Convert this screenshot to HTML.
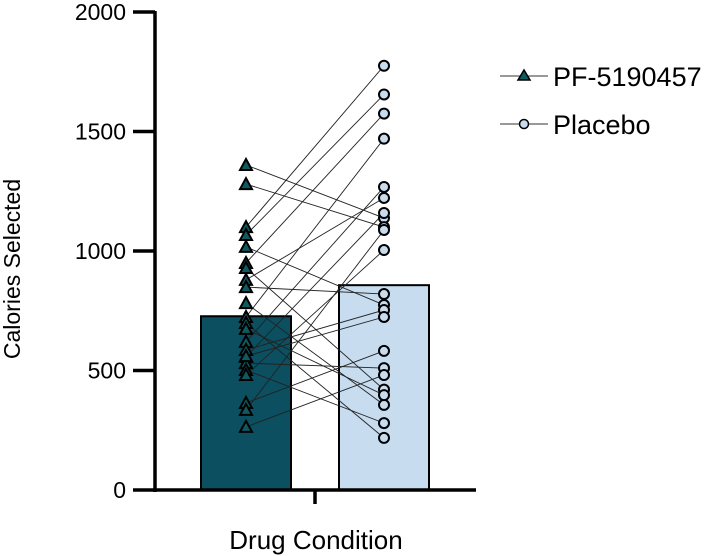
<!DOCTYPE html>
<html><head><meta charset="utf-8"><style>
html,body{margin:0;padding:0;background:#fff;}
svg{display:block;font-family:"Liberation Sans",Arial,sans-serif;}
</style></head><body>
<svg id="chart" width="705" height="556" viewBox="0 0 705 556"></svg>
<script>
const categories = ["PF-5190457", "Placebo"];
const drugValues = [1360,1280,1100,1067,1017,950,929,879,849,782,724,699,674,620,586,557,531,502,481,364,335,264,560];
const placeboValues = [1138,1100,1775,1655,774,1575,420,1222,820,356,1470,218,397,1268,753,1159,510,280,1004,582,1088,481,724];
const meanValues = [727, 857];
const yTicks = [0,500,1000,1500,2000];

const svg = document.getElementById('chart');
const NS = 'http://www.w3.org/2000/svg';
function mk(tag, attrs, parent){const e=document.createElementNS(NS,tag);for(const k in attrs)e.setAttribute(k,attrs[k]);(parent||svg).appendChild(e);return e;}
const y0=490, yTop=12, yMax=2000;
function yScale(v){return y0-(v/yMax)*(y0-yTop);}
const barX=[201,339], barW=90, pointX=[246,384];
const fills=['#0b4f60','#c7dcef'];

meanValues.forEach((v,i)=>{
  const r=mk('rect',{x:barX[i],y:yScale(v),width:barW,height:y0-yScale(v),fill:fills[i],stroke:'#000','stroke-width':2});
  
  
});
drugValues.forEach((v,i)=>{
  const l=mk('line',{x1:pointX[0],y1:yScale(v),x2:pointX[1],y2:yScale(placeboValues[i]),stroke:'#222','stroke-width':0.9});
  
  
});
drugValues.forEach((v,i)=>{
  const cx=pointX[0], cy=yScale(v);
  const t=mk('polygon',{points:`${cx},${cy-6} ${cx-6},${cy+5} ${cx+6},${cy+5}`,fill:'#0e5a5e',stroke:'#000','stroke-width':2});
  
  
});
placeboValues.forEach((v,i)=>{
  const c=mk('circle',{cx:pointX[1],cy:yScale(v),r:5,fill:fills[1],stroke:'#000','stroke-width':2});
  
  
});
const ya=mk('line',{x1:155,y1:yTop-1,x2:155,y2:y0+2,stroke:'#000','stroke-width':3.5});


const xa=mk('line',{x1:153,y1:y0,x2:476,y2:y0,stroke:'#000','stroke-width':3.5});


const xt=mk('line',{x1:315,y1:y0,x2:315,y2:y0+14,stroke:'#000','stroke-width':3.5});


yTicks.forEach(t=>{
  const y=yScale(t);
  const l=mk('line',{x1:133,y1:y,x2:155,y2:y,stroke:'#000','stroke-width':3.5});
  
  
  const tx=mk('text',{x:126,y:y+8,'text-anchor':'end','font-size':23,fill:'#000'});
  tx.textContent=t;
  
  
});
const yt=mk('text',{x:0,y:0,'text-anchor':'middle','font-size':23,transform:'translate(20,269) rotate(-90)'});
yt.textContent='Calories Selected';


const xtt=mk('text',{x:316,y:549,'text-anchor':'middle','font-size':26});
xtt.textContent='Drug Condition';


const ly=[76,124];
categories.forEach((c,i)=>{
  const g=mk('g',{});
  
  
  mk('line',{x1:500,y1:ly[i],x2:548,y2:ly[i],stroke:'#333','stroke-width':1},g);
  if(i===0) mk('polygon',{points:`524,${ly[i]-6} 518,${ly[i]+4} 530,${ly[i]+4}`,fill:'#0e5a5e',stroke:'#000','stroke-width':1.5},g);
  else mk('circle',{cx:524,cy:ly[i],r:4.5,fill:fills[1],stroke:'#000','stroke-width':1.5},g);
  const t=mk('text',{x:553,y:ly[i]+10,'font-size':27},g);
  t.textContent=c;
});
</script>
</body></html>
